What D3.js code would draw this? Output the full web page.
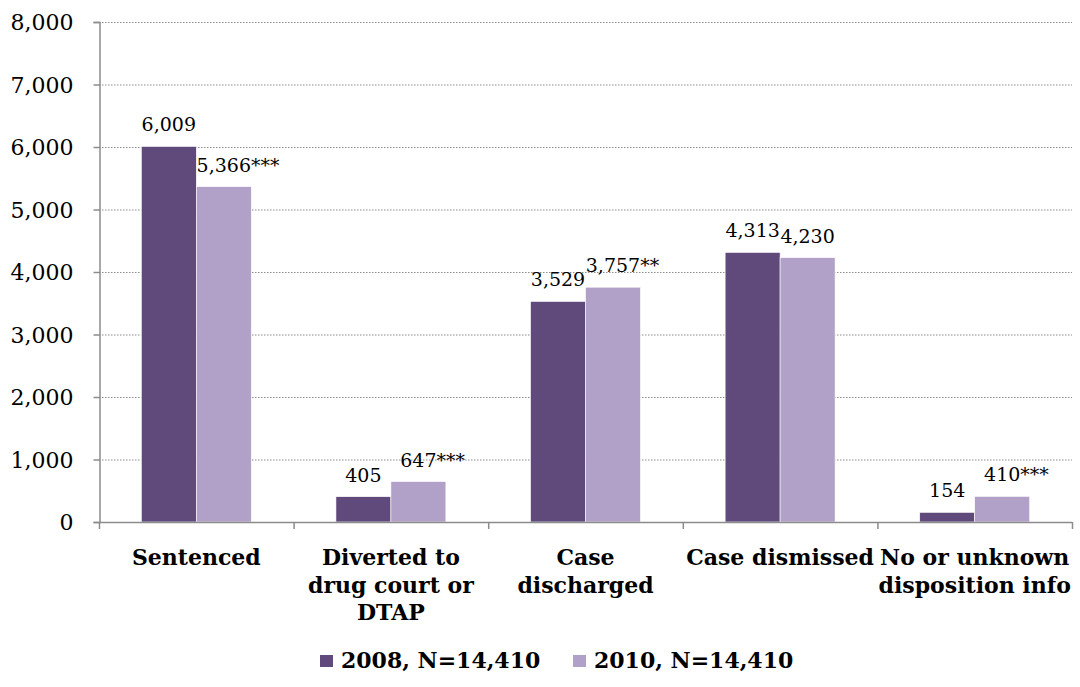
<!DOCTYPE html>
<html>
<head>
<meta charset="utf-8">
<script src="https://cdn.jsdelivr.net/npm/d3@7"></script>
<style>
  body { margin: 0; background: #fff; }
  svg { display: block; font-family: "DejaVu Serif", serif; }
</style>
</head>
<body>
<svg id="chart"></svg>
<script>
// Données
const categories = ["Sentenced", "Diverted to drug court or DTAP", "Case discharged", "Case dismissed", "No or unknown disposition info"];
const catLines = [["Sentenced"], ["Diverted to", "drug court or", "DTAP"], ["Case", "discharged"], ["Case dismissed"], ["No or unknown", "disposition info"]];
const series = ["2008, N=14,410", "2010, N=14,410"];
const values2008 = [6009, 405, 3529, 4313, 154];
const values2010 = [5366, 647, 3757, 4230, 410];
const marks2008 = ["", "", "", "", ""];
const marks2010 = ["***", "***", "**", "", "***"];
const yTicks = [0, 1000, 2000, 3000, 4000, 5000, 6000, 7000, 8000];

const colors = ["#604A7B", "#B1A0C7"];

const width = 1080;
const height = 687;
const margin = { top: 22, right: 8, bottom: 165, left: 99 };

const svg = d3.select("#chart")
    .attr("width", width)
    .attr("height", height);

const x = d3.scaleBand()
    .domain(categories)
    .range([margin.left, width - margin.right])
    .paddingInner(0)
    .paddingOuter(0);

const x1 = d3.scaleBand()
    .domain(series)
    .range([0, x.bandwidth()])
    .paddingInner(0)
    .paddingOuter(0.77);

const y = d3.scaleLinear()
    .domain([0, 8000])
    .range([height - margin.bottom, margin.top]);

// Grille pointillée
svg.append("g")
    .selectAll("line")
    .data(yTicks.filter(d => d > 0))
    .enter()
    .append("line")
    .attr("x1", margin.left)
    .attr("x2", width - margin.right)
    .attr("y1", d => y(d) + 0.5)
    .attr("y2", d => y(d) + 0.5)
    .attr("stroke", "#8c8c8c")
    .attr("stroke-width", 1.2)
    .attr("stroke-dasharray", "1.5,1.5");

// Axe Y
const yAxis = svg.append("g")
    .attr("transform", `translate(${margin.left + 0.5},0)`)
    .call(d3.axisLeft(y).tickValues(yTicks).tickSize(6).tickPadding(20)
        .tickFormat(d3.format(",")));
yAxis.select(".domain").attr("stroke", "#8c8c8c").attr("stroke-width", 1.5);
yAxis.selectAll(".tick line").attr("stroke", "#8c8c8c").attr("stroke-width", 1.5);
yAxis.selectAll("text")
    .attr("font-size", "22px")
    .attr("font-family", "DejaVu Serif, serif")
    .attr("fill", "#000")
    .attr("dy", "0.36em");

// Barres
const rows = categories.map((c, i) => ({
    cat: c,
    items: [
        { s: series[0], v: values2008[i], m: marks2008[i], k: 0 },
        { s: series[1], v: values2010[i], m: marks2010[i], k: 1 }
    ]
}));

const groups = svg.append("g")
    .selectAll("g")
    .data(rows)
    .enter()
    .append("g")
    .attr("transform", d => `translate(${x(d.cat)},0)`);

groups.selectAll("rect")
    .data(d => d.items)
    .enter()
    .append("rect")
    .attr("x", d => x1(d.s))
    .attr("y", d => y(d.v))
    .attr("width", x1.bandwidth())
    .attr("height", d => y(0) - y(d.v))
    .attr("fill", d => colors[d.k])
    .attr("stroke", "#fff")
    .attr("stroke-width", 0.6);

// Étiquettes de valeurs : partie numérique centrée sur la barre
groups.selectAll("text.val")
    .data(d => d.items)
    .enter()
    .append("text")
    .attr("class", "val")
    .attr("font-size", "19px")
    .attr("fill", "#000")
    .attr("y", d => y(d.v) - 15)
    .each(function(d) {
        const t = d3.select(this);
        const num = t.append("tspan").text(d3.format(",")(d.v));
        const w = num.node().getComputedTextLength();
        if (d.m) t.append("tspan").text(d.m);
        t.attr("x", x1(d.s) + x1.bandwidth() / 2 - w / 2);
    });

// Axe X
const xAxisY = y(0);
svg.append("line")
    .attr("x1", margin.left)
    .attr("x2", width - margin.right)
    .attr("y1", xAxisY + 0.5)
    .attr("y2", xAxisY + 0.5)
    .attr("stroke", "#8c8c8c")
    .attr("stroke-width", 1.5);

const bounds = categories.map(c => x(c)).concat([width - margin.right]);
svg.append("g")
    .selectAll("line")
    .data(bounds)
    .enter()
    .append("line")
    .attr("x1", d => d + 0.5)
    .attr("x2", d => d + 0.5)
    .attr("y1", xAxisY)
    .attr("y2", xAxisY + 7)
    .attr("stroke", "#8c8c8c")
    .attr("stroke-width", 1.5);

// Libellés des catégories
svg.append("g")
    .selectAll("text")
    .data(categories)
    .enter()
    .append("text")
    .attr("text-anchor", "middle")
    .attr("font-size", "22px")
    .attr("font-weight", "bold")
    .attr("fill", "#000")
    .each(function(c, i) {
        const t = d3.select(this);
        catLines[i].forEach((line, j) => {
            t.append("tspan")
                .attr("x", x(c) + x.bandwidth() / 2)
                .attr("y", xAxisY + 43 + j * 27.5)
                .text(line);
        });
    });

// Légende
const legend = svg.append("g")
    .attr("font-size", "22px")
    .attr("font-weight", "bold");
const legX = [320, 573];
series.forEach((s, i) => {
    legend.append("rect")
        .attr("x", legX[i])
        .attr("y", 655)
        .attr("width", 13)
        .attr("height", 12)
        .attr("fill", colors[i]);
    legend.append("text")
        .attr("x", legX[i] + 21)
        .attr("y", 668)
        .attr("fill", "#000")
        .text(s);
});
</script>
</body>
</html>
